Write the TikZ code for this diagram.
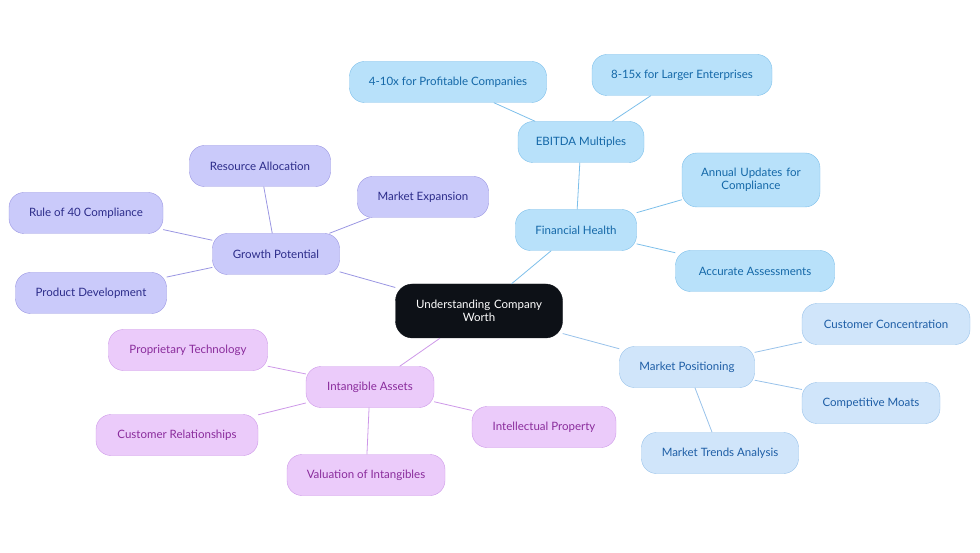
\documentclass[tikz,border=0pt]{standalone}
\usepackage{fontspec}
\setmainfont{Lato}
\definecolor{rootfill}{HTML}{0D1117}
\definecolor{finfill}{HTML}{B8E1FA}
\definecolor{finline}{HTML}{7DBFEA}
\definecolor{fintext}{HTML}{1468A8}
\definecolor{posfill}{HTML}{D0E5FA}
\definecolor{posline}{HTML}{98C2EA}
\definecolor{postext}{HTML}{1E5EA6}
\definecolor{grofill}{HTML}{CACAFA}
\definecolor{groline}{HTML}{9A96E2}
\definecolor{grotext}{HTML}{2C2C8A}
\definecolor{intfill}{HTML}{EBCBFA}
\definecolor{intline}{HTML}{CD98E8}
\definecolor{inttext}{HTML}{8A2C9C}
\begin{document}
\begin{tikzpicture}[x=1pt, y=-1pt, font=\fontsize{11.5}{13}\selectfont,
    pill/.style={rounded corners=15pt, minimum height=41pt, inner sep=2pt, align=center},
    rootbox/.style={pill, fill=rootfill, draw=rootfill, text=white, rounded corners=17pt, minimum height=54pt},
    finbox/.style={pill, fill=finfill, draw=finline, text=fintext},
    posbox/.style={pill, fill=posfill, draw=posline, text=postext},
    grobox/.style={pill, fill=grofill, draw=groline, text=grotext},
    intbox/.style={pill, fill=intfill, draw=intline, text=inttext}]
    \useasboundingbox (0,0) rectangle (980,553);

    % Root
    \node[rootbox, minimum width=167pt, text width=150pt] (worth) at (479,311) {Understanding Company\\Worth};

    % Financial health branch
    \node[finbox, minimum width=121pt] (health) at (576,230) {Financial Health};
    \node[finbox, minimum width=126pt] (ebitda) at (581,142) {EBITDA Multiples};
    \node[finbox, minimum width=197pt] (profit) at (448,82) {4-10x for Profitable Companies};
    \node[finbox, minimum width=180pt] (larger) at (682,75) {8-15x for Larger Enterprises};
    \node[finbox, minimum width=138pt, minimum height=54pt, text width=130pt] (annual) at (751,180) {Annual Updates for\\Compliance};
    \node[finbox, minimum width=159pt] (accurate) at (755,271) {Accurate Assessments};

    % Growth branch
    \node[grobox, minimum width=127pt] (growth) at (276,254) {Growth Potential};
    \node[grobox, minimum width=141pt] (resource) at (260,166) {Resource Allocation};
    \node[grobox, minimum width=131pt] (expansion) at (423,197) {Market Expansion};
    \node[grobox, minimum width=154pt] (rule) at (86,213) {Rule of 40 Compliance};
    \node[grobox, minimum width=151pt] (product) at (91,293) {Product Development};

    % Intangibles branch
    \node[intbox, minimum width=128pt] (intangible) at (370,387) {Intangible Assets};
    \node[intbox, minimum width=159pt] (proprietary) at (188,350) {Proprietary Technology};
    \node[intbox, minimum width=162pt] (relations) at (177,435) {Customer Relationships};
    \node[intbox, minimum width=158pt] (valuation) at (366,475) {Valuation of Intangibles};
    \node[intbox, minimum width=144pt] (ip) at (544,427) {Intellectual Property};

    % Positioning branch
    \node[posbox, minimum width=135pt] (positioning) at (687,367) {Market Positioning};
    \node[posbox, minimum width=168pt] (concentration) at (886,324) {Customer Concentration};
    \node[posbox, minimum width=138pt] (moats) at (871,403) {Competitive Moats};
    \node[posbox, minimum width=157pt] (trends) at (720,453) {Market Trends Analysis};

    % Links
    \draw[finline, thick] (worth) -- (health) (health) -- (ebitda) (ebitda) -- (profit)
        (ebitda) -- (larger) (health) -- (annual) (health) -- (accurate);
    \draw[groline, thick] (worth) -- (growth) (growth) -- (resource) (growth) -- (expansion)
        (growth) -- (rule) (growth) -- (product);
    \draw[intline, thick] (worth) -- (intangible) (intangible) -- (proprietary) (intangible) -- (relations)
        (intangible) -- (valuation) (intangible) -- (ip);
    \draw[posline, thick] (worth) -- (positioning) (positioning) -- (concentration)
        (positioning) -- (moats) (positioning) -- (trends);
\end{tikzpicture}
\end{document}
